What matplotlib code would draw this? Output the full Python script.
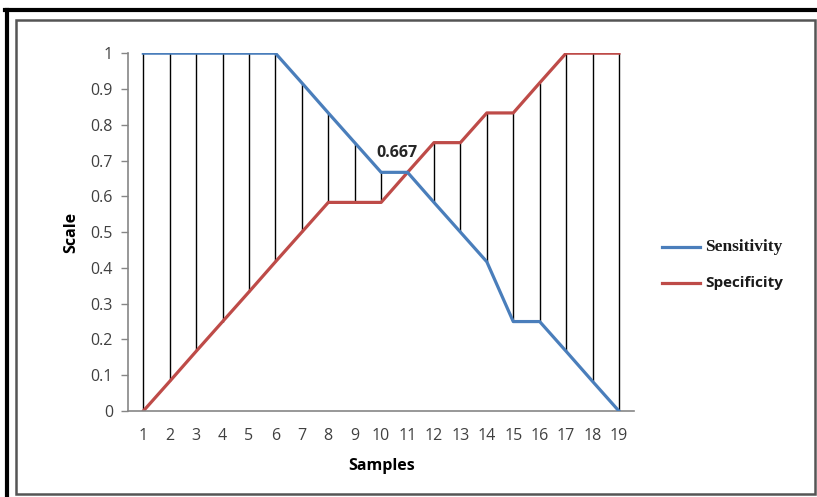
import numpy as np
import matplotlib.pyplot as plt
from matplotlib.lines import Line2D
from matplotlib.patches import Rectangle

# Data
samples = np.arange(1, 20)
sensitivity = [1, 1, 1, 1, 1, 1, 0.917, 0.833, 0.75, 0.667, 0.667,
               0.583, 0.5, 0.417, 0.25, 0.25, 0.167, 0.083, 0]
specificity = [0, 0.083, 0.167, 0.25, 0.333, 0.417, 0.5, 0.583, 0.583, 0.583,
               0.667, 0.75, 0.75, 0.833, 0.833, 0.917, 1, 1, 1]
y_ticks = [0, 0.1, 0.2, 0.3, 0.4, 0.5, 0.6, 0.7, 0.8, 0.9, 1]
y_tick_labels = ['0', '0.1', '0.2', '0.3', '0.4', '0.5', '0.6', '0.7', '0.8', '0.9', '1']
note_x = 10
note_text = '0.667'

blue = '#4A7EBB'
red = '#BE4B48'
grey = '#868686'

fig = plt.figure(figsize=(8.17, 4.97), dpi=100)
ax = fig.add_axes([0.157, 0.173, 0.619, 0.72])

# high-low lines between the two series
lo = np.minimum(sensitivity, specificity)
hi = np.maximum(sensitivity, specificity)
ax.vlines(samples, lo, hi, color='black', lw=1.0, zorder=1)

ax.plot(samples, sensitivity, color=blue, lw=2.3, label='Sensitivity', zorder=3)
ax.plot(samples, specificity, color=red, lw=2.3, label='Specificity', zorder=2)

ax.annotate(note_text, (note_x, sensitivity[note_x - 1]), xytext=(11.5, 14),
            textcoords='offset points', ha='center', va='center',
            fontsize=11.5, fontweight='bold', family='Open Sans', color='#262626')

ax.set_xlim(0.43, 19.57)
ax.set_ylim(0, 1)
ax.set_xticks(samples)
ax.set_xticklabels([str(s) for s in samples], family='Open Sans', fontsize=11.5, color='#404040')
ax.set_yticks(y_ticks)
ax.set_yticklabels(y_tick_labels, family='Open Sans', fontsize=11.5, color='#404040')
ax.tick_params(axis='x', length=0, pad=12)
ax.tick_params(axis='y', length=5, color=grey, width=1, pad=6)

for s in ['top', 'right']:
    ax.spines[s].set_visible(False)
for s in ['left', 'bottom']:
    ax.spines[s].set_color(grey)
    ax.spines[s].set_linewidth(1.2)

ax.set_xlabel('Samples', family='Open Sans', fontweight='bold', fontsize=11.5)
ax.set_ylabel('Scale', family='Open Sans', fontweight='bold', fontsize=11.5)
ax.xaxis.set_label_coords(0.5, -0.13)
ax.yaxis.set_label_coords(-0.097, 0.5)

# legend drawn by hand to mix fonts like the original
handles, labels = ax.get_legend_handles_labels()
fonts = ['Liberation Serif', 'Open Sans']
sizes = [12.5, 11]
ys = [247, 283]
for h, lab, fam, sz, yp in zip(handles, labels, fonts, sizes, ys):
    yf = 1 - yp / 497
    fig.add_artist(Line2D([662 / 817, 700 / 817], [yf, yf], color=h.get_color(), lw=2.3))
    fig.text(705 / 817, yf, lab, family=fam, fontweight='bold', fontsize=sz,
             va='center', ha='left', color='#1a1a1a')

# frame around the picture
fig.add_artist(Rectangle((16 / 817, 3 / 497), 799 / 817, 474 / 497, transform=fig.transFigure,
                         fill=False, ec='#555555', lw=1.8))
fig.add_artist(Line2D([5 / 817, 1], [1 - 10 / 497, 1 - 10 / 497], color='black', lw=3))
fig.add_artist(Line2D([7 / 817, 7 / 817], [0, 1 - 10 / 497], color='black', lw=3))

fig.savefig('out.png', dpi=100)
